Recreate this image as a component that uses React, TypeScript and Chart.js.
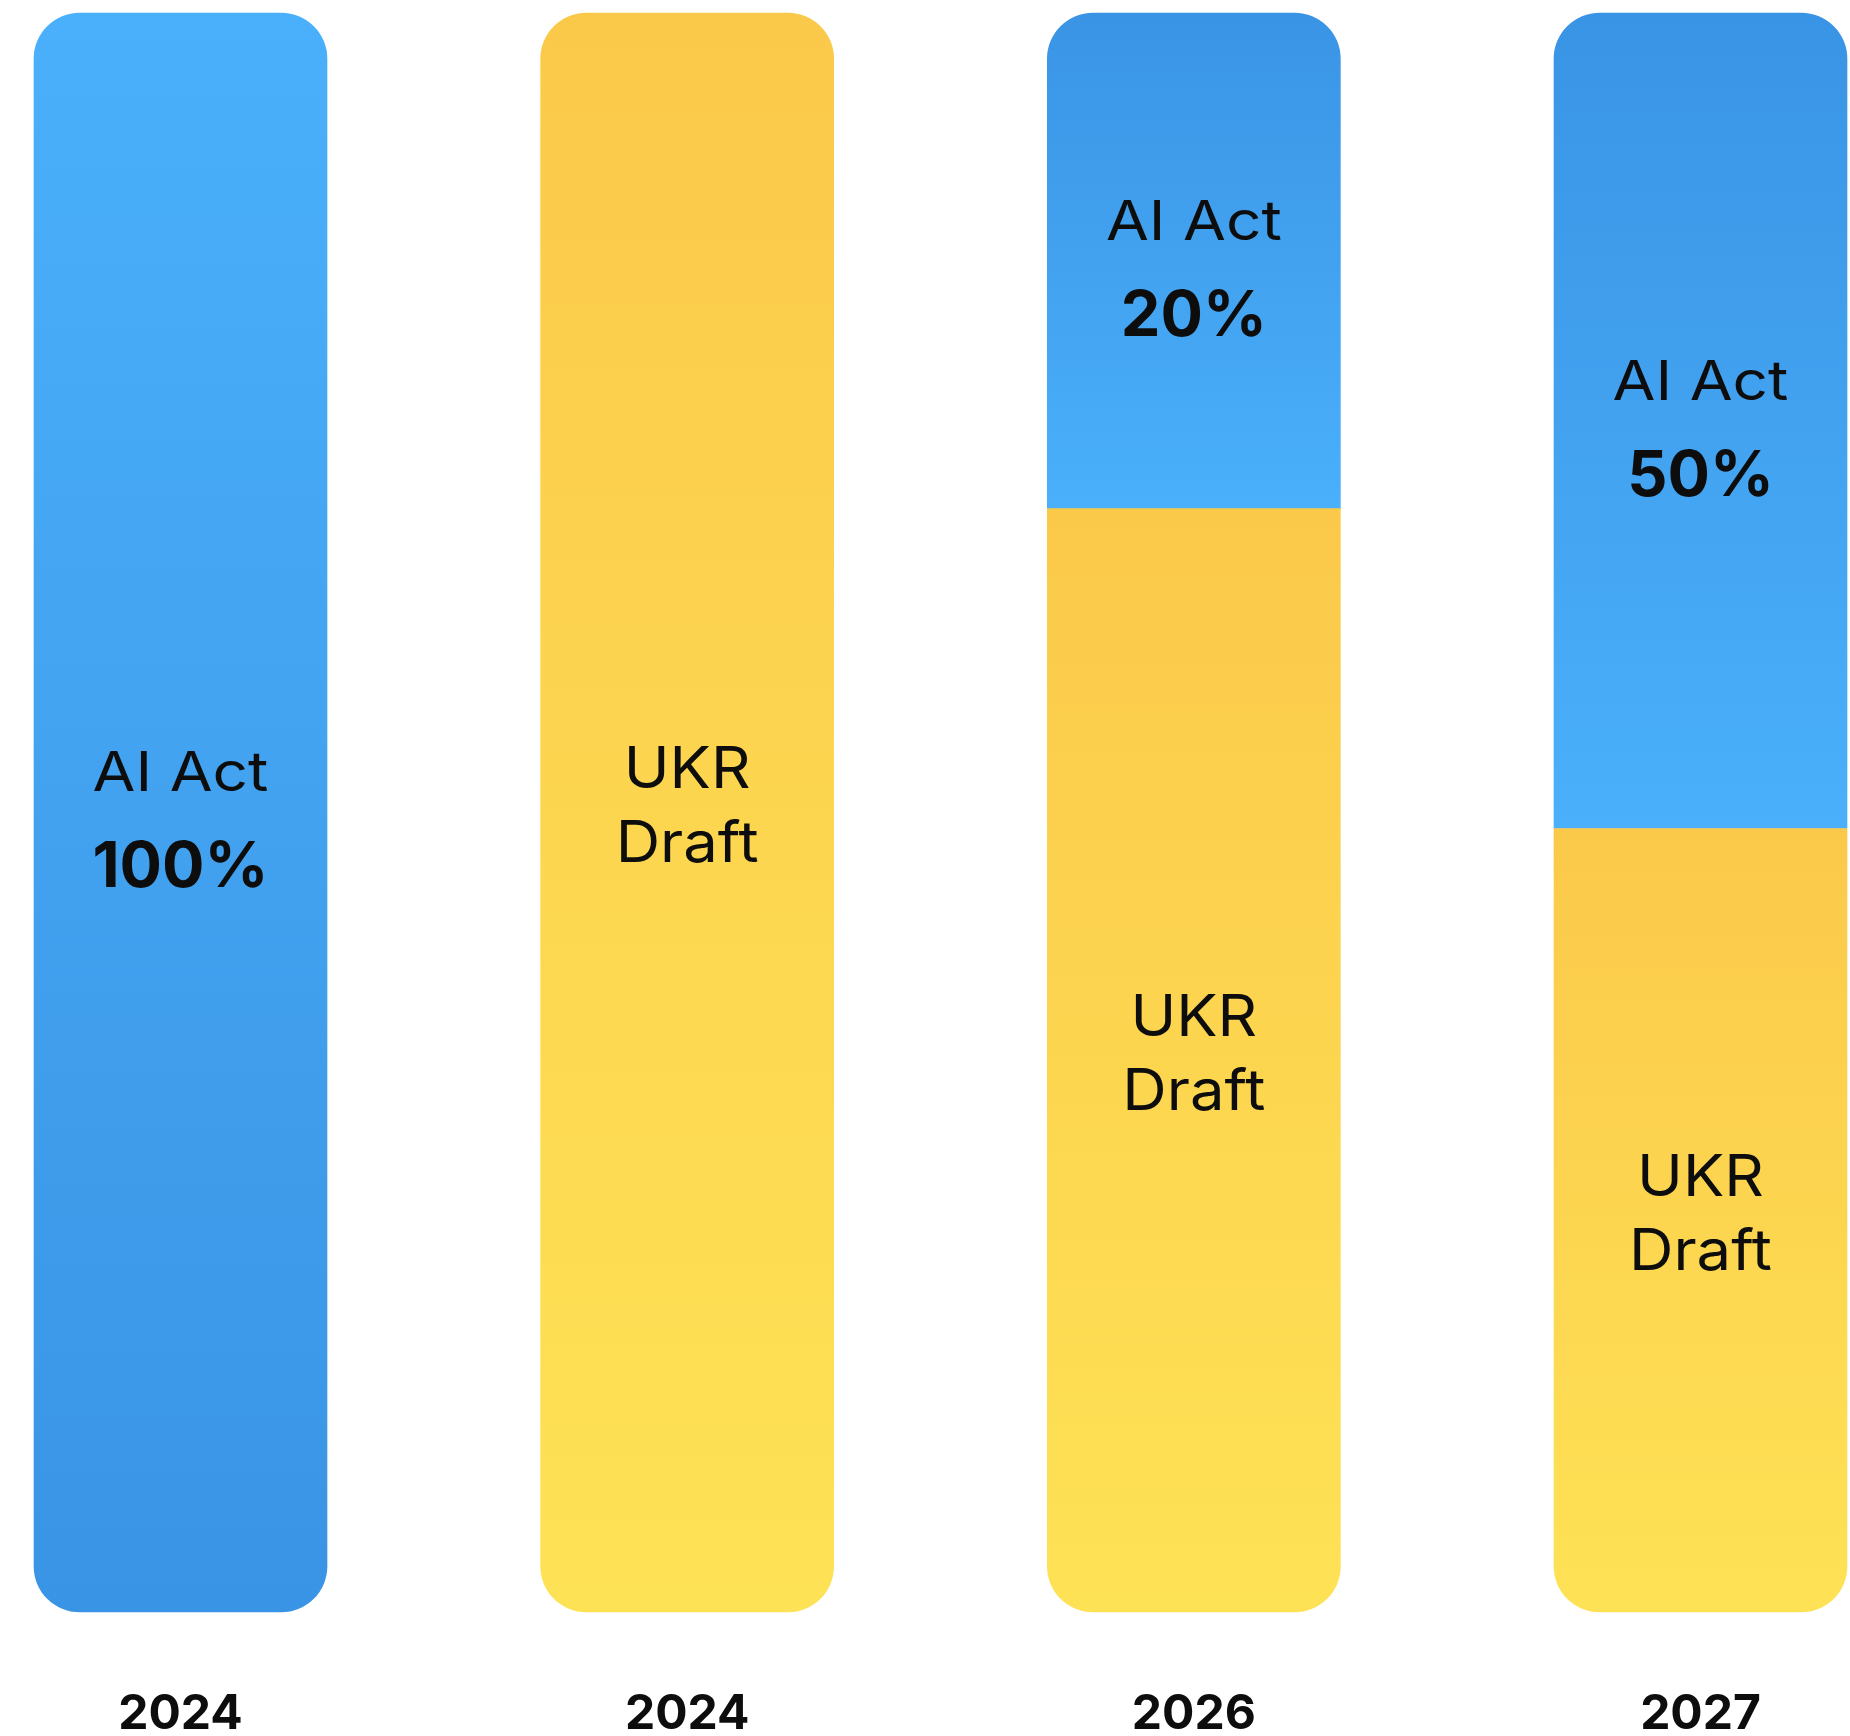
import React, { useEffect, useRef } from "react";
import { Chart, registerables } from "chart.js";

Chart.register(...registerables);

// ---- data ----
const categories = ["2024", "2024", "2026", "2027"];
const ukrDraftShare = [0, 100, 69, 49];
const aiActShare = [100, 0, 31, 51];
const aiActPctLabels = ["100%", "", "20%", "50%"];
const aiActName = "AI Act";
const ukrDraftName = ["UKR", "Draft"];

const FONT = "Inter, 'Noto Sans', 'DejaVu Sans', sans-serif";
const TEXT = "#0d0d0d";
const BLUE_LIGHT = "#4AB0FB";
const BLUE_DARK = "#3A94E5";
const YELLOW_TOP = "#FBC94A";
const YELLOW_BOTTOM = "#FEE255";
const RADIUS = 46;

const ukrRanges = ukrDraftShare.map((v) => (v > 0 ? [0, v] : null));
const aiRanges = aiActShare.map((v, i) => (v > 0 ? [ukrDraftShare[i], ukrDraftShare[i] + v] : null));

function gradientFor(ctx: any, colors: [string, string]) {
  const chart = ctx.chart;
  const y = chart.scales && chart.scales.y;
  const raw = ctx.raw as number[] | null;
  if (!y || !raw || ctx.type !== "data") return colors[0];
  const top = y.getPixelForValue(raw[1]);
  const bottom = y.getPixelForValue(raw[0]);
  if (!isFinite(top) || !isFinite(bottom) || top === bottom) return colors[0];
  const g = chart.ctx.createLinearGradient(0, top, 0, bottom);
  g.addColorStop(0, colors[0]);
  g.addColorStop(1, colors[1]);
  return g;
}

function drawWide(ctx: CanvasRenderingContext2D, text: string, cx: number, baseline: number, sx: number) {
  ctx.save();
  ctx.translate(cx, baseline);
  ctx.scale(sx, 1);
  ctx.fillText(text, 0, 0);
  ctx.restore();
}

const segmentLabels = {
  id: "segmentLabels",
  afterDatasetsDraw(chart: any) {
    const { ctx } = chart;
    const y = chart.scales.y;
    const x = chart.scales.x;
    ctx.save();
    ctx.fillStyle = TEXT;
    ctx.textAlign = "center";
    ctx.textBaseline = "alphabetic";
    const cap = 0.727;
    categories.forEach((_, i) => {
      const cx = x.getPixelForValue(i);
      if (aiActShare[i] > 0) {
        const top = y.getPixelForValue(ukrDraftShare[i] + aiActShare[i]);
        const bot = y.getPixelForValue(ukrDraftShare[i]);
        const mid = (top + bot) / 2 + 5;
        ctx.font = `400 55px ${FONT}`;
        drawWide(ctx, aiActName, cx, mid - 46 + (55 * cap) / 2, 1.13);
        ctx.font = `700 63px ${FONT}`;
        drawWide(ctx, aiActPctLabels[i], cx, mid + 47 + (63 * cap) / 2, 1.0);
      }
      if (ukrDraftShare[i] > 0) {
        const top = y.getPixelForValue(ukrDraftShare[i]);
        const bot = y.getPixelForValue(0);
        const mid = (top + bot) / 2 - 8;
        ctx.font = `400 57px ${FONT}`;
        drawWide(ctx, ukrDraftName[0], cx, mid - 37 + (57 * cap) / 2, 1.08);
        drawWide(ctx, ukrDraftName[1], cx, mid + 37 + (57 * cap) / 2, 1.08);
      }
    });
    ctx.restore();
  },
};

export default function App() {
  const ref = useRef<HTMLCanvasElement | null>(null);
  useEffect(() => {
    document.body.style.margin = "0";
    if (!ref.current) return;
    const chart = new Chart(ref.current, {
      type: "bar",
      data: {
        labels: categories,
        datasets: [
          {
            label: "UKR Draft",
            data: ukrRanges as any,
            backgroundColor: (ctx: any) => gradientFor(ctx, [YELLOW_TOP, YELLOW_BOTTOM]),
            borderSkipped: false,
            borderWidth: 0,
            borderRadius: (ctx: any) =>
              aiActShare[ctx.dataIndex] > 0
                ? { topLeft: 0, topRight: 0, bottomLeft: RADIUS, bottomRight: RADIUS }
                : RADIUS,
            barThickness: 293,
            clip: false as any,
          },
          {
            label: "AI Act",
            data: aiRanges as any,
            backgroundColor: (ctx: any) =>
              gradientFor(
                ctx,
                ukrDraftShare[ctx.dataIndex] > 0 ? [BLUE_DARK, BLUE_LIGHT] : [BLUE_LIGHT, BLUE_DARK]
              ),
            borderSkipped: false,
            borderWidth: 0,
            borderRadius: (ctx: any) =>
              ukrDraftShare[ctx.dataIndex] > 0
                ? { topLeft: RADIUS, topRight: RADIUS, bottomLeft: 0, bottomRight: 0 }
                : RADIUS,
            barThickness: 293,
            clip: false as any,
          },
        ],
      },
      options: {
        animation: false,
        responsive: true,
        maintainAspectRatio: false,
        layout: { padding: { left: 180.5, right: 149.5, top: 13, bottom: 0 } },
        plugins: { legend: { display: false }, tooltip: { enabled: false } },
        scales: {
          x: {
            stacked: true,
            offset: false,
            grid: { display: false, drawTicks: false },
            border: { display: false },
            ticks: {
              color: TEXT,
              font: { family: FONT, size: 48, weight: "bold", lineHeight: 1 },
              padding: 79,
              autoSkip: false,
              maxRotation: 0,
            },
            afterFit: (scale: any) => {
              scale.height = 124;
            },
          },
          y: {
            display: false,
            stacked: false,
            min: 0,
            max: 100,
          },
        },
      },
      plugins: [segmentLabels],
    });
    return () => chart.destroy();
  }, []);
  return (
    <div style={{ width: 1850, height: 1736, position: "relative" }}>
      <canvas ref={ref} />
    </div>
  );
}
